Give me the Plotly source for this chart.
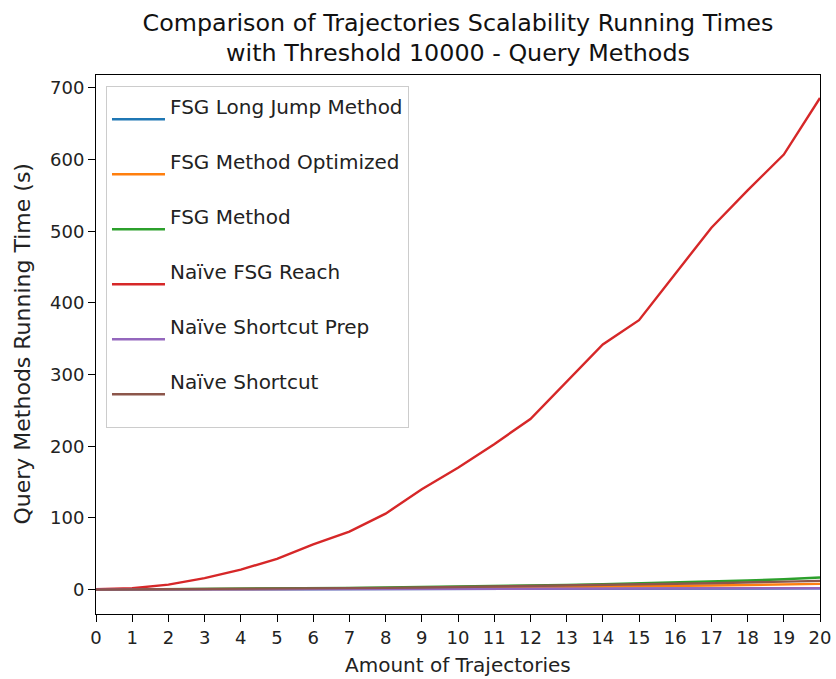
import plotly.graph_objects as go

x = list(range(0, 21))
fsg_long_jump = [0, 0.05, 0.1, 0.15, 0.2, 0.3, 0.4, 0.5, 0.6, 0.7, 0.8, 0.9, 1.0, 1.1, 1.2, 1.3, 1.4, 1.5, 1.6, 1.7, 1.8]
fsg_optimized = [0, 0.1, 0.2, 0.3, 0.5, 0.7, 0.9, 1.2, 1.5, 1.8, 2.2, 2.6, 3.0, 3.5, 4.0, 4.6, 5.2, 5.8, 6.5, 7.2, 8.0]
fsg_method = [0, 0.2, 0.4, 0.7, 1.0, 1.4, 1.9, 2.4, 3.0, 3.6, 4.3, 5.0, 5.8, 6.7, 7.7, 8.8, 10.0, 11.3, 12.7, 14.5, 17.0]
naive_fsg_reach = [0.5, 2, 7, 16, 28, 43, 63, 81, 106, 140, 170, 203, 238, 290, 342, 376, 440, 505, 557, 607, 686]
naive_shortcut_prep = [0, 0.05, 0.1, 0.2, 0.3, 0.4, 0.5, 0.6, 0.7, 0.8, 0.9, 1.0, 1.1, 1.2, 1.3, 1.4, 1.5, 1.6, 1.7, 1.8, 2.0]
naive_shortcut = [0, 0.2, 0.4, 0.6, 0.9, 1.2, 1.6, 2.0, 2.5, 3.0, 3.6, 4.2, 4.9, 5.6, 6.4, 7.2, 8.1, 9.0, 10.0, 11.0, 12.2]

names = ["FSG Long Jump Method", "FSG Method Optimized", "FSG Method",
         "Naïve FSG Reach", "Naïve Shortcut Prep", "Naïve Shortcut"]
series = [fsg_long_jump, fsg_optimized, fsg_method, naive_fsg_reach, naive_shortcut_prep, naive_shortcut]
colors = ["#1f77b4", "#ff7f0e", "#2ca02c", "#d62728", "#9467bd", "#8c564b"]
x_ticks = list(range(0, 21))
y_ticks = [0, 100, 200, 300, 400, 500, 600, 700]

fig = go.Figure()
for n, s, c in zip(names, series, colors):
    fig.add_trace(go.Scatter(x=x, y=s, mode="lines", name=n + "<br>\u00a0",
                             line=dict(color=c, width=2.4)))

font = "DejaVu Sans, sans-serif"
fig.update_layout(
    width=836, height=679,
    margin=dict(l=96, r=16, t=75, b=65, autoexpand=False),
    paper_bgcolor="white", plot_bgcolor="white",
    font=dict(family=font, size=18, color="#222"),
    title=dict(text="Comparison of Trajectories Scalability Running Times<br>with Threshold 10000 - Query Methods",
               xref="paper", x=0.5, xanchor="center", yref="container", y=1 - 30.5 / 679, yanchor="middle",
               font=dict(size=23.8, family=font, color="#111")),
    xaxis=dict(range=[0, 20], tickmode="array", tickvals=x_ticks, automargin=False,
               showline=True, linecolor="black", linewidth=1, mirror=True,
               ticks="outside", ticklen=7, tickcolor="black", showgrid=False, zeroline=False,
               tickfont=dict(size=18)),
    yaxis=dict(range=[-34, 718], tickmode="array", tickvals=y_ticks, automargin=False,
               showline=True, linecolor="black", linewidth=1, mirror=True,
               ticks="outside", ticklen=7, tickcolor="black", showgrid=False, zeroline=False,
               tickfont=dict(size=18)),
    legend=dict(x=0.0138, y=0.98, xanchor="left", yanchor="top",
                bgcolor="white", bordercolor="#cccccc", borderwidth=1,
                font=dict(size=20, family=font), itemwidth=53, valign="middle"),
    showlegend=True,
    annotations=[
        dict(text="Query Methods Running Time (s)", textangle=-90,
             xref="paper", yref="paper", x=-(96 - 22) / 724, y=0.5,
             xanchor="center", yanchor="middle", showarrow=False,
             font=dict(size=22, family=font, color="#222")),
        dict(text="Amount of Trajectories",
             xref="paper", yref="paper", x=0.5, y=-(665 - 614) / 539,
             xanchor="center", yanchor="middle", showarrow=False,
             font=dict(size=20, family=font, color="#222")),
    ],
)
fig.write_html("out.html")
